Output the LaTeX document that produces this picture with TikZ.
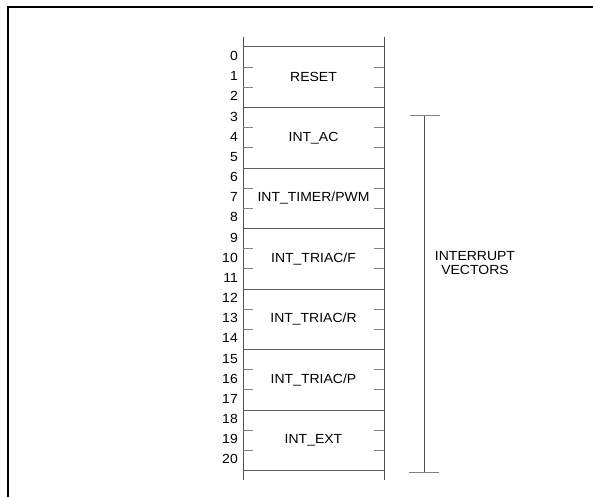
\documentclass[tikz,border=0pt]{standalone}
\usepackage{fontspec}
\setmainfont{Liberation Sans}[FakeStretch=1.06]
\usepackage{tikz}
\definecolor{wallgray}{HTML}{4A5157}
\definecolor{sepgray}{HTML}{585F64}
\definecolor{tickgray}{HTML}{7E8488}

\begin{document}
\begin{tikzpicture}[x=1pt, y=-1pt,
    frame/.style   = {line width=2pt, black},
    wall/.style    = {line width=1pt, wallgray},
    sep/.style     = {line width=1pt, sepgray},
    tickmark/.style= {line width=1pt, tickgray},
    lbl/.style     = {font=\fontsize{13.2}{14}\selectfont, inner sep=0pt, align=center},
    num/.style     = {font=\fontsize{13.2}{14}\selectfont, inner sep=0pt, anchor=east}
]
\useasboundingbox (0,0) rectangle (593,497);
\draw[frame] (8,497) -- (8,7) -- (593,7);

% memory map
\coordinate (lt) at (243,37);  \coordinate (lb) at (243,480);
\coordinate (rt) at (384,37);  \coordinate (rb) at (384,480);
\draw[wall] (lt) -- (lb);
\draw[wall] (rt) -- (rb);
\foreach \k in {0,...,7}
  \draw[sep] (243,47+60.5*\k) -- (384,47+60.5*\k);
\foreach \k in {0,...,6} {
  \draw[tickmark] (243,67.17+60.5*\k) -- (253,67.17+60.5*\k);
  \draw[tickmark] (243,87.33+60.5*\k) -- (253,87.33+60.5*\k);
  \draw[tickmark] (374,67.17+60.5*\k) -- (384,67.17+60.5*\k);
  \draw[tickmark] (374,87.33+60.5*\k) -- (384,87.33+60.5*\k);
}
\foreach \txt [count=\k from 0] in {RESET, INT\_AC, INT\_TIMER/PWM, INT\_TRIAC/F,
    INT\_TRIAC/R, INT\_TRIAC/P, INT\_EXT}
  \node[lbl] (b\k) at (313.5,77.25+60.5*\k) {\txt};
\foreach \n in {0,...,20}
  \node[num] (n\n) at (238,56+20.17*\n) {\n};

% bracket
\coordinate (vtop) at (424,116);
\coordinate (vbot) at (424,472);
\draw[wall] (vtop) -- (vbot);
\draw[tickmark] (410,116) -- (440,116);
\draw[tickmark] (409,472) -- (439,472);
\node[lbl] (vec) at (475,263) {INTERRUPT\\VECTORS};
\end{tikzpicture}
\end{document}
